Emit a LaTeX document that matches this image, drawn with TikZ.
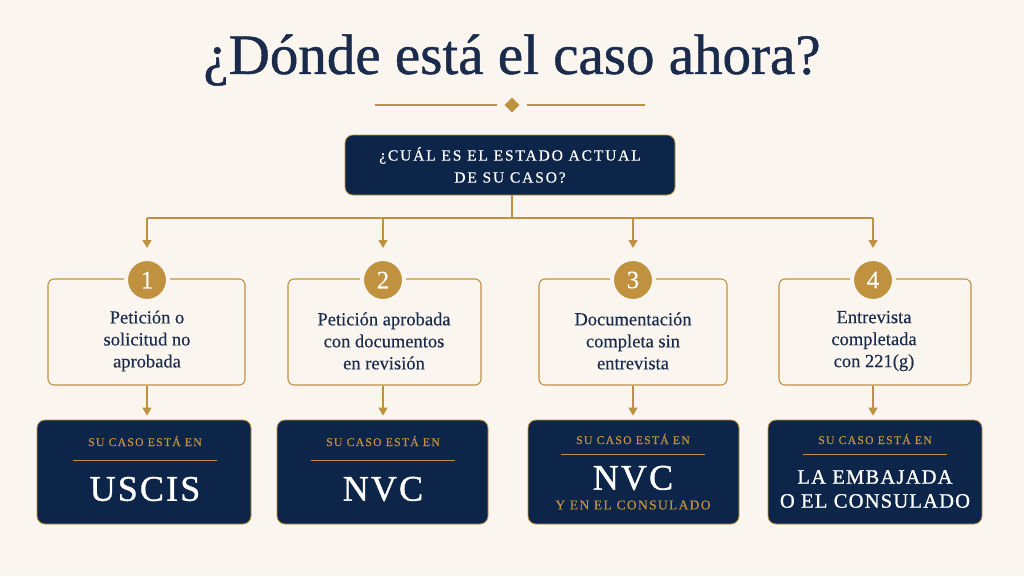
\documentclass[tikz,border=0pt]{standalone}
\usepackage{fontspec}
\setmainfont{Liberation Serif}
\newfontfamily\titlefont[FakeBold=0.8]{Liberation Serif}
\newfontfamily\bodyfont[FakeBold=0.3]{Liberation Serif}
\newfontfamily\spacedA[LetterSpace=10,FakeBold=0.5]{Liberation Serif}
\newfontfamily\spacedB[LetterSpace=12,FakeBold=0.6]{Liberation Serif}
\newfontfamily\spacedC[LetterSpace=6,FakeBold=1]{Liberation Serif}
\usetikzlibrary{arrows.meta,calc,shapes.geometric}
\definecolor{bg}{HTML}{FAF6EF}
\definecolor{navy}{HTML}{0C2548}
\definecolor{gold}{HTML}{C0913F}
\definecolor{ink}{HTML}{1B2B4B}
\tikzset{
  navybox/.style={rectangle, rounded corners=8pt, fill=navy, draw=gold, line width=0.8pt, align=center, text=white, inner sep=0pt},
  lightbox/.style={rectangle, rounded corners=6pt, draw=gold, line width=1.1pt, fill=bg, minimum height=106pt, inner sep=0pt},
  btext/.style={align=center, text=ink, font=\bodyfont\fontsize{18.5}{22}\selectfont, inner sep=0pt},
  numc/.style={circle, fill=gold, draw=bg, line width=4pt, minimum size=42pt, inner sep=0pt, text=white, font=\bodyfont\fontsize{25}{25}\selectfont},
  gline/.style={draw=gold, line width=1.4pt},
  garr/.style={draw=gold, line width=1.4pt, -{Triangle[width=9pt,length=8pt]}},
  lbl/.style={text=gold, font=\spacedA\fontsize{11.8}{12}\selectfont, inner sep=0pt},
}
\begin{document}
\begin{tikzpicture}[x=1pt,y=-1pt]
\useasboundingbox[fill=bg] (0,0) rectangle (1024,576);

% title
\node[text=ink, font=\titlefont\fontsize{57}{57}\selectfont, inner sep=0pt] (title) at (512,60) {¿Dónde está el caso ahora?};
\node[diamond, fill=gold, minimum size=15pt, inner sep=0pt] (dia) at (512,105) {};
\coordinate (ol) at (375,105);
\coordinate (or) at (645,105);
\draw[draw=gold, line width=1.1pt] (ol) -- ([xshift=-15pt]dia.center);
\draw[draw=gold, line width=1.1pt] ([xshift=15pt]dia.center) -- (or);

% question box
\node[navybox, minimum width=330pt, minimum height=60pt, font=\spacedB\fontsize{15.5}{22}\selectfont] (q) at (510,165) {¿CUÁL ES EL ESTADO ACTUAL\\DE SU CASO?};
\coordinate (j) at (512,218);
\draw[gline] (q.south -| j) -- (j);

% light boxes
\node[lightbox, minimum width=197pt] (b1) at (146.5,332) {};
\node[lightbox, minimum width=193pt] (b2) at (384.5,332) {};
\node[lightbox, minimum width=188pt] (b3) at (633,332) {};
\node[lightbox, minimum width=192pt] (b4) at (875,332) {};
\node[btext] (x1) at (147,341) {Petición o\\solicitud no\\aprobada};
\node[btext] (x2) at (384,341) {Petición aprobada\\con documentos\\en revisión};
\node[btext] (x3) at (633,341) {Documentación\\completa sin\\entrevista};
\node[btext] (x4) at (874,341) {Entrevista\\completada\\con 221(g)};

\node[numc] (n1) at (147,280) {1};
\node[numc] (n2) at (383,280) {2};
\node[numc] (n3) at (633,280) {3};
\node[numc] (n4) at (873,280) {4};

\draw[gline] (j -| n1) -- (j -| n4);
\foreach \n in {n1,n2,n3,n4} {
  \draw[garr, shorten >=9pt] (j -| \n) -- (\n.north);
}

% dark boxes
\node[navybox, minimum width=214pt, minimum height=104pt] (d1) at (144,472) {};
\node[navybox, minimum width=211pt, minimum height=104pt] (d2) at (382.5,472) {};
\node[navybox, minimum width=211pt, minimum height=104pt] (d3) at (633.5,472) {};
\node[navybox, minimum width=214pt, minimum height=104pt] (d4) at (875,472) {};

\foreach \b/\d/\n in {b1/d1/n1,b2/d2/n2,b3/d3/n3,b4/d4/n4} {
  \draw[garr, shorten >=4pt] (\b.south -| \n) -- (\d.north -| \n);
}

% labels in dark boxes
\node[lbl] (l1) at (145,441) {SU CASO ESTÁ EN};
\node[lbl] (l2) at (383,441) {SU CASO ESTÁ EN};
\node[lbl] (l3) at (633,439) {SU CASO ESTÁ EN};
\node[lbl] (l4) at (875,439) {SU CASO ESTÁ EN};
\foreach \l/\y in {l1/460,l2/460,l3/454,l4/454} {
  \draw[draw=gold, line width=1pt] ([xshift=-72pt]\l.center |- 0,\y) -- ([xshift=72pt]\l.center |- 0,\y);
}

\node[text=white, font=\spacedC\fontsize{36}{36}\selectfont, inner sep=0pt] (t1) at (145,489) {USCIS};
\node[text=white, font=\spacedC\fontsize{36}{36}\selectfont, inner sep=0pt] (t2) at (383,489) {NVC};
\node[text=white, font=\spacedC\fontsize{36}{36}\selectfont, inner sep=0pt] (t3) at (633,478) {NVC};
\node[text=gold, font=\spacedA\fontsize{13.5}{14}\selectfont, inner sep=0pt] (t3b) at (633,505) {Y EN EL CONSULADO};
\node[text=white, font=\spacedC\fontsize{20.5}{24}\selectfont, align=center, inner sep=0pt] (t4) at (875,489) {LA EMBAJADA\\O EL CONSULADO};
\end{tikzpicture}
\end{document}
